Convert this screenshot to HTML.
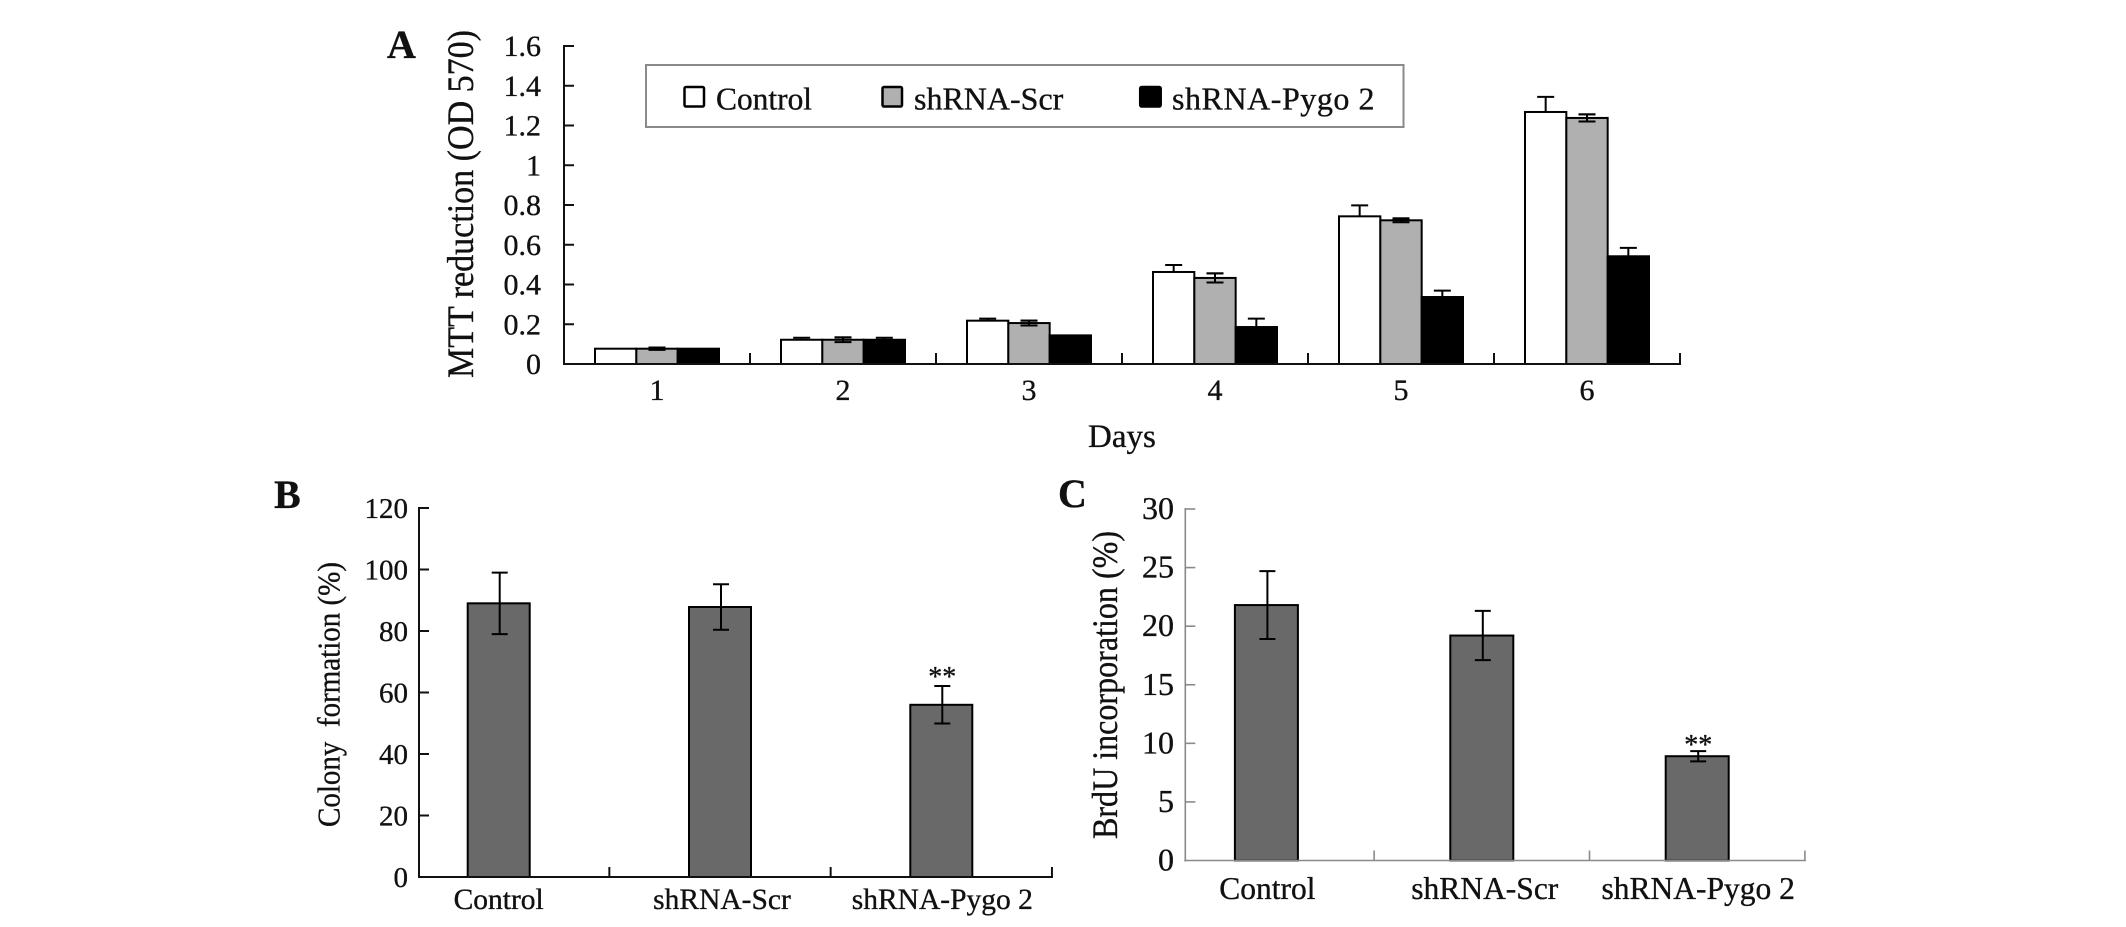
<!DOCTYPE html>
<html lang="en">
<head>
<meta charset="utf-8">
<title>MTT reduction, colony formation and BrdU incorporation</title>
<style>
html,body{margin:0;padding:0;background:#fff;}
svg{display:block;}
text{font-family:"Liberation Serif",serif;fill:#111;stroke:#111;stroke-width:0.35px;}
.mono-space{white-space:pre;}
</style>
</head>
<body>
<svg id="figure" xmlns="http://www.w3.org/2000/svg" width="2126" height="927" viewBox="0 0 2126 927">
  <rect x="0" y="0" width="2126" height="927" fill="#fff"/>

  <g id="panel-a">
    <text x="387" y="58" font-size="40" font-weight="bold">A</text>
    <text transform="translate(473,378) rotate(-90)" font-size="37" textLength="348" lengthAdjust="spacingAndGlyphs">MTT reduction (OD 570)</text>
    <text x="1088" y="447" font-size="33">Days</text>
    <g>
      <rect x="646" y="65" width="757.5" height="62" fill="#fff" stroke="#8a8a8a" stroke-width="2"/>
      <g>
        <rect x="684.5" y="87" width="19.5" height="19.5" rx="1.5" fill="#fff" stroke="#000" stroke-width="2.5"/>
        <text x="716" y="109.5" font-size="32" textLength="96" lengthAdjust="spacingAndGlyphs">Control</text>
      </g>
      <g>
        <rect x="882.5" y="87" width="19.5" height="19.5" rx="1.5" fill="#b0b0b0" stroke="#000" stroke-width="2.5"/>
        <text x="914" y="109.5" font-size="32">shRNA-Scr</text>
      </g>
      <g>
        <rect x="1140.2" y="87" width="20.5" height="19.5" rx="1.5" fill="#000" stroke="#000" stroke-width="2.5"/>
        <text x="1172" y="109.5" font-size="32" textLength="202.5" lengthAdjust="spacing">shRNA-Pygo 2</text>
      </g>
    </g>
  </g>

  <g id="panel-b">
    <text x="274" y="508" font-size="40" font-weight="bold">B</text>
    <text class="mono-space" transform="translate(339.5,827) rotate(-90)" font-size="32" textLength="265" lengthAdjust="spacingAndGlyphs">Colony  formation (%)</text>
  </g>

  <g id="panel-c">
    <text x="1058" y="507" font-size="40" font-weight="bold">C</text>
    <text transform="translate(1117,839) rotate(-90)" font-size="36" textLength="308" lengthAdjust="spacingAndGlyphs">BrdU incorporation (%)</text>
  </g>
</svg>

<script>
// Panel A data
const days = ['1', '2', '3', '4', '5', '6'];
const controlValues = [0.077, 0.122, 0.218, 0.463, 0.743, 1.268];
const scrValues = [0.077, 0.122, 0.206, 0.433, 0.723, 1.238];
const pygoValues = [0.077, 0.122, 0.144, 0.186, 0.337, 0.542];
const controlErr = [0, 0.01, 0.01, 0.035, 0.055, 0.076];
const scrErr = [0.006, 0.012, 0.012, 0.023, 0.01, 0.018];
const pygoErr = [0, 0.01, 0, 0.042, 0.032, 0.042];
const mttTicks = ['0', '0.2', '0.4', '0.6', '0.8', '1', '1.2', '1.4', '1.6'];

// Panel B data
const colonyCategories = ['Control', 'shRNA-Scr', 'shRNA-Pygo 2'];
const colonyValues = [89, 87.8, 56];
const colonyErr = [10, 7.4, 6.1];
const colonyTicks = ['0', '20', '40', '60', '80', '100', '120'];
const colonyMarks = ['', '', '**'];

// Panel C data
const brduCategories = ['Control', 'shRNA-Scr', 'shRNA-Pygo 2'];
const brduValues = [21.8, 19.2, 8.9];
const brduErr = [2.9, 2.1, 0.44];
const brduTicks = ['0', '5', '10', '15', '20', '25', '30'];
const brduMarks = ['', '', '**'];

const NS = 'http://www.w3.org/2000/svg';

function mk(tag, attrs, parent) {
  const node = document.createElementNS(NS, tag);
  Object.keys(attrs).forEach(function (k) { node.setAttribute(k, attrs[k]); });
  parent.appendChild(node);
  return node;
}

function drawLine(parent, x1, y1, x2, y2, color, width, name) {
  const line = mk('line', { x1: x1, y1: y1, x2: x2, y2: y2, stroke: color, 'stroke-width': width }, parent);
  
  
  return line;
}

function drawLabel(parent, x, y, str, size, anchor, name) {
  const t = mk('text', { x: x, y: y, 'font-size': size, 'text-anchor': anchor }, parent);
  t.textContent = str;
  
  
  return t;
}

function drawBar(parent, x, top, w, base, fill, name) {
  const r = mk('rect', { x: x, y: top, width: w, height: base - top, fill: fill, stroke: '#000', 'stroke-width': 2 }, parent);
  
  
  return r;
}

function drawError(parent, cx, value, err, yScale, capW, showLower, name) {
  if (err <= 0) return;
  const g = mk('g', {}, parent);
  
  
  const hi = yScale(value + err);
  const lo = showLower ? yScale(value - err) : yScale(value);
  drawLine(g, cx, lo, cx, hi, '#000', 2, name + '-stem');
  drawLine(g, cx - capW / 2, hi, cx + capW / 2, hi, '#000', 2, name + '-cap-upper');
  if (showLower) {
    drawLine(g, cx - capW / 2, lo, cx + capW / 2, lo, '#000', 2, name + '-cap-lower');
  }
}

// ---------- Panel A ----------
(function () {
  const parent = document.getElementById('panel-a');
  const x0 = 564, xEnd = 1680, y0 = 364, yTop = 46, yMax = 1.6;
  const bandW = (xEnd - x0) / days.length;
  const barW = bandW * 2 / 3 / 3;
  const yScale = function (v) { return y0 - (v / yMax) * (y0 - yTop); };
  const xCenter = function (i) { return x0 + (i + 0.5) * bandW; };

  const seriesNames = ['control', 'shrna-scr', 'shrna-pygo2'];
  const seriesFill = ['#fff', '#b0b0b0', '#000'];
  const seriesVals = [controlValues, scrValues, pygoValues];
  const seriesErr = [controlErr, scrErr, pygoErr];

  seriesVals.forEach(function (vals, s) {
    vals.forEach(function (v, i) {
      const left = xCenter(i) - 1.5 * barW + s * barW;
      drawError(parent, left + barW / 2, v, seriesErr[s][i], yScale, 17, false, 'error-bar-' + seriesNames[s] + '-day-' + days[i] + '-up');
    });
  });
  seriesVals.forEach(function (vals, s) {
    vals.forEach(function (v, i) {
      const left = xCenter(i) - 1.5 * barW + s * barW;
      drawBar(parent, left, yScale(v), barW, y0, seriesFill[s], 'bar-' + seriesNames[s] + '-day-' + days[i]);
    });
  });
  scrValues.forEach(function (v, i) {
    const left = xCenter(i) - 0.5 * barW;
    drawError(parent, left + barW / 2, v, scrErr[i], yScale, 17, true, 'error-bar-shrna-scr-day-' + days[i]);
  });

  drawLine(parent, x0, yTop - 1, x0, y0 + 1, '#111', 2, 'panel-a-y-axis');
  drawLine(parent, x0 - 1, y0, xEnd + 1, y0, '#111', 2, 'panel-a-x-axis');
  mttTicks.forEach(function (t) {
    const y = yScale(Number(t));
    if (Number(t) > 0) {
      drawLine(parent, x0, y, x0 + 10, y, '#111', 2, 'panel-a-y-tick-' + t);
    }
    drawLabel(parent, 541, y + 10, t, 30, 'end', 'panel-a-y-tick-label-' + t);
  });
  days.forEach(function (d, i) {
    const tx = x0 + (i + 1) * bandW;
    drawLine(parent, tx, y0, tx, y0 - 11, '#111', 2, 'panel-a-x-tick-' + d);
    drawLabel(parent, xCenter(i), 400, d, 30, 'middle', 'panel-a-x-tick-label-' + d);
  });
})();

// ---------- Panels B and C ----------
function drawSimplePanel(opts) {
  const parent = document.getElementById(opts.id);
  const yScale = function (v) { return opts.y0 - (v / opts.yMax) * (opts.y0 - opts.yTop); };
  const xCenter = function (i) { return opts.firstCenter + i * opts.step; };

  opts.values.forEach(function (v, i) {
    drawBar(parent, xCenter(i) - opts.barW / 2, yScale(v), opts.barW, opts.y0, '#696969', opts.prefix + '-bar-' + i);
    drawError(parent, xCenter(i) + 1, v, opts.err[i], yScale, 16, true, opts.prefix + '-error-bar-' + i);
    if (opts.marks[i]) {
      drawLabel(parent, xCenter(i) + 1, yScale(v + opts.err[i]) + opts.markOffset, opts.marks[i], 28, 'middle', opts.prefix + '-significance-' + i);
    }
  });

  const axisEnd = xCenter(opts.categories.length - 1) + opts.step / 2;
  drawLine(parent, opts.x0, opts.yTop - 1, opts.x0, opts.y0 + 1, opts.axisColor, opts.axisWidth, opts.prefix + '-y-axis');
  drawLine(parent, opts.x0 - 1, opts.y0, axisEnd + 1, opts.y0, opts.axisColor, opts.axisWidth, opts.prefix + '-x-axis');
  opts.ticks.forEach(function (t) {
    const y = yScale(Number(t));
    if (Number(t) > 0) {
      drawLine(parent, opts.x0, y, opts.x0 + 10, y, opts.axisColor, opts.axisWidth, opts.prefix + '-y-tick-' + t);
    }
    drawLabel(parent, opts.labelRight, y + 10, t, opts.tickSize, 'end', opts.prefix + '-y-tick-label-' + t);
  });
  opts.categories.forEach(function (c, i) {
    const tx = xCenter(i) + opts.step / 2;
    drawLine(parent, tx, opts.y0, tx, opts.y0 - 10, opts.axisColor, opts.axisWidth, opts.prefix + '-x-tick-' + i);
    drawLabel(parent, xCenter(i) + opts.catShift[i], opts.catBaseline, c, opts.catSize, 'middle', opts.prefix + '-x-tick-label-' + i);
  });
}

drawSimplePanel({
  id: 'panel-b', prefix: 'panel-b',
  categories: colonyCategories, values: colonyValues, err: colonyErr, ticks: colonyTicks, marks: colonyMarks,
  x0: 419, y0: 877, yTop: 508, yMax: 120,
  firstCenter: 498.7, step: 221.3, barW: 62,
  axisColor: '#111', axisWidth: 2, labelRight: 408, tickSize: 29,
  catBaseline: 909, catSize: 29.5, catShift: [0, 2, 1], markOffset: 0
});

drawSimplePanel({
  id: 'panel-c', prefix: 'panel-c',
  categories: brduCategories, values: brduValues, err: brduErr, ticks: brduTicks, marks: brduMarks,
  x0: 1185.3, y0: 860.5, yTop: 509, yMax: 30,
  firstCenter: 1266.4, step: 215.4, barW: 63,
  axisColor: '#8a8a8a', axisWidth: 1.6, labelRight: 1174, tickSize: 32,
  catBaseline: 899, catSize: 31.5, catShift: [1, 3, 1], markOffset: 3
});
</script>
</body>
</html>
